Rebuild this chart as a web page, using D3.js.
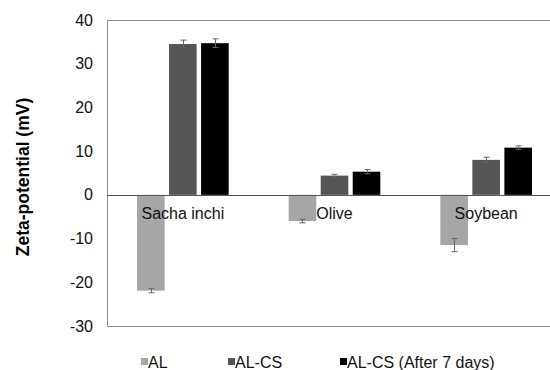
<!DOCTYPE html>
<html>
<head>
<meta charset="utf-8">
<script src="https://d3js.org/d3.v7.min.js"></script>
<style>
body { margin: 0; background: #fff; }
svg { font-family: "Liberation Sans", Arial, sans-serif; }
</style>
</head>
<body>
<div id="chart"></div>
<script>
// data
var oils = ["Sacha inchi", "Olive", "Soybean"];
var series = ["AL", "AL-CS", "AL-CS (After 7 days)"];
var colors = ["#a6a6a6", "#555555", "#000000"];
var alValues = [-21.9, -6.0, -11.5];
var alcsValues = [34.5, 4.4, 8.0];
var alcs7Values = [34.7, 5.3, 10.8];
var alErr = [0.5, 0.4, 1.5];
var alcsErr = [0.9, 0.3, 0.6];
var alcs7Err = [1.0, 0.5, 0.4];
var yTicks = [-30, -20, -10, 0, 10, 20, 30, 40];

var values = [alValues, alcsValues, alcs7Values];
var errors = [alErr, alcsErr, alcs7Err];

var WIDTH = 550, HEIGHT = 370;
var plotLeft = 107, plotTop = 20, plotBottom = 326, plotRight = 562;

var svg = d3.select("#chart").append("svg")
  .attr("width", WIDTH)
  .attr("height", HEIGHT);

var y = d3.scaleLinear().domain([-30, 40]).range([plotBottom, plotTop]);
var x0 = d3.scaleBand().domain(oils).range([plotLeft, plotRight]);
var x1 = d3.scaleBand().domain(series)
  .range([30, x0.bandwidth() - 30])
  .paddingInner(0.1375);

// frame (no right border)
svg.append("path")
  .attr("d", "M" + WIDTH + "," + (plotTop + 0.5) + "H" + (plotLeft + 0.5) + "V" + (plotBottom + 0.5) + "H" + WIDTH)
  .attr("fill", "none")
  .attr("stroke", "#8c8c8c")
  .attr("stroke-width", 1);

// y tick labels
svg.append("g").selectAll("text")
  .data(yTicks)
  .enter().append("text")
    .attr("x", 93)
    .attr("y", function(d) { return y(d); })
    .attr("dy", "0.35em")
    .attr("text-anchor", "end")
    .attr("font-size", 16)
    .attr("fill", "#111")
    .text(function(d) { return d; });

// bars
var rows = [];
oils.forEach(function(o, i) {
  series.forEach(function(s, j) {
    rows.push({oil: o, s: s, j: j, v: values[j][i], e: errors[j][i]});
  });
});

var bars = svg.append("g");
bars.selectAll("rect")
  .data(rows)
  .enter().append("rect")
    .attr("x", function(d) { return x0(d.oil) + x1(d.s); })
    .attr("y", function(d) { return y(Math.max(0, d.v)); })
    .attr("width", x1.bandwidth())
    .attr("height", function(d) { return Math.abs(y(d.v) - y(0)); })
    .attr("fill", function(d) { return colors[d.j]; });

// zero line
svg.append("line")
  .attr("x1", plotLeft).attr("x2", WIDTH)
  .attr("y1", Math.round(y(0)) + 0.5).attr("y2", Math.round(y(0)) + 0.5)
  .attr("stroke", "#555")
  .attr("stroke-width", 1);

// error bars
var eb = svg.append("g").attr("stroke", "#666").attr("stroke-width", 1).attr("fill", "none");
eb.selectAll("path")
  .data(rows)
  .enter().append("path")
    .attr("d", function(d) {
      var cx = Math.round(x0(d.oil) + x1(d.s) + x1.bandwidth() / 2) + 0.5;
      var y1 = y(d.v + d.e), y2 = y(d.v - d.e);
      return "M" + (cx - 3) + "," + y1 + "H" + (cx + 3) +
             "M" + cx + "," + y1 + "V" + y2 +
             "M" + (cx - 3) + "," + y2 + "H" + (cx + 3);
    });

// category labels
svg.append("g").selectAll("text")
  .data(oils)
  .enter().append("text")
    .attr("x", function(d) { return x0(d) + x0.bandwidth() / 2; })
    .attr("y", y(0) + 24)
    .attr("text-anchor", "middle")
    .attr("font-size", 16)
    .attr("fill", "#111")
    .text(function(d) { return d; });

// y axis title
svg.append("text")
  .attr("transform", "translate(29,177) rotate(-90)")
  .attr("text-anchor", "middle")
  .attr("font-size", 17.5)
  .attr("font-weight", "bold")
  .attr("fill", "#000")
  .text("Zeta-potential (mV)");

// legend
var legendX = [141, 228, 340];
var legend = svg.append("g").selectAll("g")
  .data(series)
  .enter().append("g")
    .attr("transform", function(d, i) { return "translate(" + legendX[i] + ",358)"; });
legend.append("rect")
  .attr("width", 7).attr("height", 7)
  .attr("fill", function(d, i) { return colors[i]; });
legend.append("text")
  .attr("x", 7)
  .attr("y", 4)
  .attr("dy", "0.35em")
  .attr("font-size", 16)
  .attr("fill", "#111")
  .text(function(d) { return d; });
</script>
</body>
</html>
